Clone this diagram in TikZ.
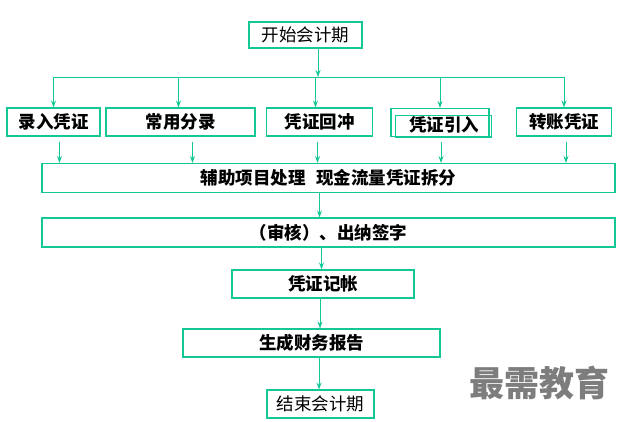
\documentclass[tikz,border=0pt]{standalone}
\usepackage{fontspec}
\newfontfamily\cjk{Noto Sans CJK SC}
\usetikzlibrary{arrows.meta}
\definecolor{lc}{RGB}{20,200,150}
\definecolor{wm}{RGB}{125,125,125}
\begin{document}
\begin{tikzpicture}[x=1pt,y=1pt,
  box/.style={draw=lc,line width=1.1pt,inner sep=0pt,font=\cjk\fontsize{17.5}{20}\selectfont\bfseries,text=black},
  plain/.style={box,font=\cjk\fontsize{17.5}{20}\selectfont},
  arr/.style={draw=lc,line width=0.9pt,-{Stealth[length=7pt,width=5pt,inset=2.5pt]}},
  ln/.style={draw=lc,line width=0.9pt}]
\useasboundingbox (0,0) rectangle (618,-422);
\fill[white] (0,0) rectangle (618,-422);
% nodes
\node[plain,minimum width=113,minimum height=26] (start) at (305.5,-35) {开始会计期};
\coordinate (bus) at (318,-77);
\node[box,minimum width=93,minimum height=28] (b1) at (53.5,-122) {录入凭证};
\node[box,minimum width=149,minimum height=28] (b2) at (180.5,-122) {常用分录};
\node[box,minimum width=106,minimum height=28] (b3) at (319.5,-122) {凭证回冲};
\node[box,minimum width=98,minimum height=28] (b4) at (440,-122.5) {};
\node[box,draw=none] (b4t) at (444,-125) {凭证引入};
\node[box,minimum width=95,minimum height=28] (b5) at (564,-122) {转账凭证};
\node[box,minimum width=573,minimum height=29] (aux) at (328.5,-178) {辅助项目处理\hspace{0.6em}现金流量凭证拆分};
\node[box,minimum width=573,minimum height=29] (audit) at (328.5,-232.5) {（审核）、出纳签字};
\node[box,minimum width=182,minimum height=28] (post) at (323,-284) {凭证记帐};
\node[box,minimum width=257,minimum height=28] (report) at (311.5,-343) {生成财务报告};
\node[plain,minimum width=107,minimum height=28] (finish) at (320.5,-404) {结束会计期};
\node[font=\cjk\fontsize{35}{40}\selectfont\bfseries,text=wm,inner sep=0pt] (mark) at (539,-383) {最需教育};
% second outline of 凭证引入
\draw[lc,line width=1.1pt] ([shift={(5,-8)}]b4.north west) rectangle ([xshift=2]b4.south east);
% connectors
\draw[arr] (start.south -| bus) -- (bus);
\draw[ln] (b1.north |- bus) -- (b5.north |- bus);
\draw[arr] (b1.north |- bus) -- (b1.north);
\draw[arr] ([xshift=-2]b2.north |- bus) -- ([xshift=-2]b2.north);
\draw[arr] ([xshift=-4]b3.north |- bus) -- ([xshift=-4]b3.north);
\draw[arr] (b4.north |- bus) -- (b4.north);
\draw[arr] (b5.north |- bus) -- (b5.north);
\draw[arr] ([shift={(6,-5)}]b1.south) -- ([xshift=6]b1.south |- aux.north);
\draw[arr] ([shift={(12,-5)}]b2.south) -- ([xshift=12]b2.south |- aux.north);
\draw[arr] ([shift={(-2,-5)}]b3.south) -- ([xshift=-2]b3.south |- aux.north);
\draw[arr] ([shift={(1,-5)}]b4.south) -- ([xshift=1]b4.south |- aux.north);
\draw[arr] ([shift={(2,-5)}]b5.south) -- ([xshift=2]b5.south |- aux.north);
\draw[arr] ([xshift=-9]aux.south) -- ([xshift=-9]aux.south |- audit.north);
\draw[arr] ([xshift=-7]audit.south) -- ([xshift=-7]audit.south |- post.north);
\draw[arr] ([xshift=-3]post.south) -- ([xshift=-3]post.south |- report.north);
\draw[arr] ([xshift=7.5]report.south) -- ([xshift=7.5]report.south |- finish.north);
\end{tikzpicture}
\end{document}
